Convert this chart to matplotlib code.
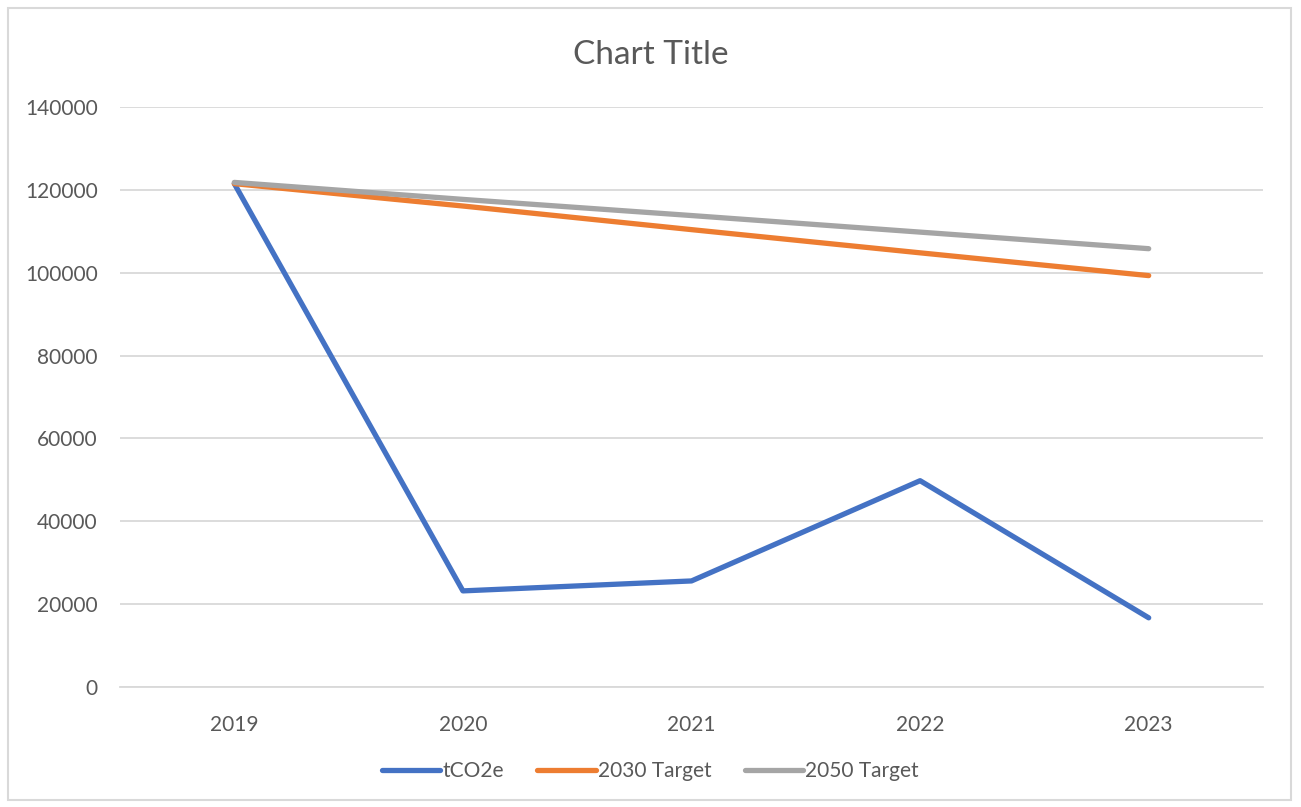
import matplotlib.pyplot as plt
from matplotlib.patches import Rectangle

years = ["2019", "2020", "2021", "2022", "2023"]
tco2e = [121500, 23200, 25600, 49800, 16700]
target_2030 = [121500, 116100, 110400, 104800, 99300]
target_2050 = [121800, 117700, 113800, 109800, 105800]

text_color = "#595959"
plt.rcParams["font.family"] = ["Lato", "DejaVu Sans"]

fig = plt.figure(figsize=(13.01, 8.07), dpi=100)
ax = fig.add_axes([120 / 1301, 120 / 807, 1143 / 1301, 580 / 807])

x = range(len(years))
style = dict(lw=3.8, solid_capstyle="round", solid_joinstyle="round", zorder=3)
ax.plot(x, tco2e, color="#4472C4", label="tCO2e", **style)
ax.plot(x, target_2030, color="#ED7D31", label="2030 Target", **style)
ax.plot(x, target_2050, color="#A5A5A5", label="2050 Target", **style)

ax.set_xlim(-0.5, len(years) - 0.5)
ax.set_ylim(0, 140000)
ax.set_yticks(range(0, 140001, 20000))
ax.set_xticks(list(x))
ax.set_xticklabels(years)
ax.grid(axis="y", color="#D9D9D9", lw=1.3)
ax.set_axisbelow(True)
for s in ["top", "right", "left"]:
    ax.spines[s].set_visible(False)
ax.spines["bottom"].set_color("#D9D9D9")
ax.spines["bottom"].set_linewidth(1.3)
ax.tick_params(length=0, labelsize=15, labelcolor=text_color)
ax.tick_params(axis="x", pad=20)
ax.tick_params(axis="y", pad=16)

fig.text(0.5, 1 - 55 / 807, "Chart Title", ha="center", va="center", fontsize=24, color=text_color)

leg = fig.legend(loc="center", bbox_to_anchor=(0.5, 1 - 771 / 807), ncol=3, frameon=False,
                 fontsize=15, handlelength=2.8, handletextpad=0.1, columnspacing=1.6)
for t in leg.get_texts():
    t.set_color(text_color)

fig.patches.append(Rectangle((8 / 1301, 7 / 807), 1283 / 1301, 792 / 807, transform=fig.transFigure,
                             fill=False, edgecolor="#D9D9D9", lw=1.5))

fig.savefig("out.png", dpi=100, facecolor="white")
